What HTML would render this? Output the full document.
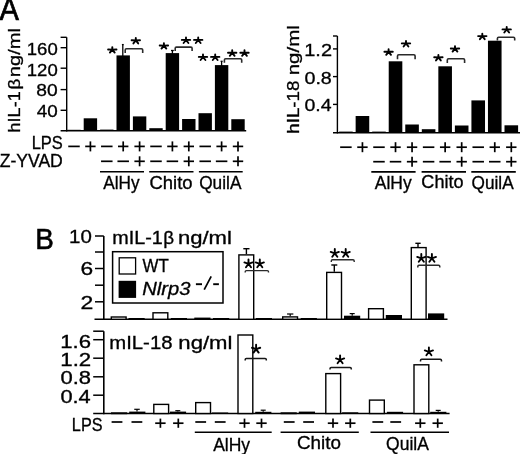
<!DOCTYPE html>
<html><head><meta charset="utf-8"><style>
html,body{margin:0;padding:0;background:#fff;}
body{width:520px;height:454px;overflow:hidden;}
svg{display:block;will-change:transform;}
text{font-family:"Liberation Sans", sans-serif;fill:#000;stroke:#000;stroke-width:0.32px;}
</style></head><body>
<svg width="520" height="454" viewBox="0 0 520 454">
<text x="-0.4" y="20.4" font-size="31.5" textLength="19.4" lengthAdjust="spacingAndGlyphs" style="stroke-width:0.7px">A</text>
<line x1="66.7" y1="37.3" x2="66.7" y2="131.45" stroke="#000" stroke-width="1.4" stroke-linecap="butt"/>
<line x1="60.6" y1="37.3" x2="66.7" y2="37.3" stroke="#000" stroke-width="1.4" stroke-linecap="butt"/>
<line x1="60.6" y1="47.7" x2="66.7" y2="47.7" stroke="#000" stroke-width="1.4" stroke-linecap="butt"/>
<line x1="60.6" y1="68.2" x2="66.7" y2="68.2" stroke="#000" stroke-width="1.4" stroke-linecap="butt"/>
<line x1="60.6" y1="89.6" x2="66.7" y2="89.6" stroke="#000" stroke-width="1.4" stroke-linecap="butt"/>
<line x1="60.6" y1="110.3" x2="66.7" y2="110.3" stroke="#000" stroke-width="1.4" stroke-linecap="butt"/>
<line x1="60.6" y1="130.7" x2="246.2" y2="130.7" stroke="#000" stroke-width="1.5" stroke-linecap="butt"/>
<text x="26.79" y="54.9" font-size="17.4" textLength="30.94" lengthAdjust="spacingAndGlyphs" >160</text>
<text x="26.79" y="75.9" font-size="17.4" textLength="30.94" lengthAdjust="spacingAndGlyphs" >120</text>
<text x="36.36" y="96.4" font-size="17.4" textLength="21.39" lengthAdjust="spacingAndGlyphs" >80</text>
<text x="36.77" y="117.4" font-size="17.4" textLength="20.97" lengthAdjust="spacingAndGlyphs" >40</text>
<text transform="translate(20.2,131.2) rotate(-90)" x="-1.25" y="0" font-size="17.4" textLength="41.13" lengthAdjust="spacingAndGlyphs">hIL-1</text>
<text transform="translate(20.2,88.2) rotate(-90)" x="-1.29" y="0" font-size="17.4" textLength="10.73" lengthAdjust="spacingAndGlyphs">&#946;</text>
<text transform="translate(20.2,75.8) rotate(-90)" x="-1.34" y="0" font-size="17.4" textLength="49.18" lengthAdjust="spacingAndGlyphs">ng/ml</text>
<rect x="67.3" y="129.8" width="13.4" height="0.9" fill="#000"/>
<rect x="83.7" y="118.3" width="13.4" height="12.4" fill="#000"/>
<rect x="100.1" y="129.6" width="13.4" height="1.1" fill="#000"/>
<rect x="116.5" y="55.4" width="13.4" height="75.3" fill="#000"/>
<rect x="132.9" y="116.4" width="13.4" height="14.3" fill="#000"/>
<rect x="149.3" y="128.2" width="13.4" height="2.5" fill="#000"/>
<rect x="165.7" y="53.1" width="13.4" height="77.6" fill="#000"/>
<rect x="182.1" y="119" width="13.4" height="11.7" fill="#000"/>
<rect x="198.5" y="113.2" width="13.4" height="17.5" fill="#000"/>
<rect x="214.9" y="65.1" width="13.4" height="65.6" fill="#000"/>
<rect x="231.3" y="119.2" width="13.4" height="11.5" fill="#000"/>
<line x1="122.8" y1="44.6" x2="122.8" y2="56" stroke="#000" stroke-width="1.3" stroke-linecap="butt"/>
<line x1="121.9" y1="44.6" x2="123.7" y2="44.6" stroke="#000" stroke-width="1.3" stroke-linecap="butt"/>
<line x1="172.4" y1="50.5" x2="172.4" y2="54" stroke="#000" stroke-width="1.3" stroke-linecap="butt"/>
<line x1="171" y1="50.5" x2="173.8" y2="50.5" stroke="#000" stroke-width="1.3" stroke-linecap="butt"/>
<line x1="221.6" y1="61.3" x2="221.6" y2="66" stroke="#000" stroke-width="1.3" stroke-linecap="butt"/>
<line x1="220.6" y1="61.3" x2="222.6" y2="61.3" stroke="#000" stroke-width="1.3" stroke-linecap="butt"/>
<path d="M112.3 49.6L112.3 47.1M112.3 49.6L108.1 49.5M112.3 49.6L116.5 49.5M112.3 49.6L109.9 52.6M112.3 49.6L114.7 52.6" stroke="#000" stroke-width="1.9" stroke-linecap="round" fill="none"/>
<path d="M125.2 53L125.2 49.9Q125.2 48.7 126.4 48.7L141.5 48.7Q142.7 48.7 142.7 49.9L142.7 53" stroke="#2a2a2a" stroke-width="1.6" fill="none"/>
<path d="M135.8 40.4L135.8 37.9M135.8 40.4L131.6 40.3M135.8 40.4L140 40.3M135.8 40.4L133.4 43.4M135.8 40.4L138.2 43.4" stroke="#000" stroke-width="1.9" stroke-linecap="round" fill="none"/>
<path d="M163.9 45.6L163.9 43.1M163.9 45.6L159.7 45.5M163.9 45.6L168.1 45.5M163.9 45.6L161.5 48.6M163.9 45.6L166.3 48.6" stroke="#000" stroke-width="1.9" stroke-linecap="round" fill="none"/>
<path d="M175.2 51L175.2 48.3Q175.2 47.1 176.4 47.1L190.9 47.1Q192.1 47.1 192.1 48.3L192.1 51" stroke="#2a2a2a" stroke-width="1.6" fill="none"/>
<path d="M186 40L186 37.5M186 40L181.8 39.9M186 40L190.2 39.9M186 40L183.6 43M186 40L188.4 43" stroke="#000" stroke-width="1.9" stroke-linecap="round" fill="none"/>
<path d="M198.2 40L198.2 37.5M198.2 40L194 39.9M198.2 40L202.4 39.9M198.2 40L195.8 43M198.2 40L200.6 43" stroke="#000" stroke-width="1.9" stroke-linecap="round" fill="none"/>
<path d="M203 57L203 54.5M203 57L198.8 56.9M203 57L207.2 56.9M203 57L200.6 60M203 57L205.4 60" stroke="#000" stroke-width="1.9" stroke-linecap="round" fill="none"/>
<path d="M215.2 57L215.2 54.5M215.2 57L211 56.9M215.2 57L219.4 56.9M215.2 57L212.8 60M215.2 57L217.6 60" stroke="#000" stroke-width="1.9" stroke-linecap="round" fill="none"/>
<path d="M224.4 62.8L224.4 59.9Q224.4 58.7 225.6 58.7L240.5 58.7Q241.7 58.7 241.7 59.9L241.7 62.8" stroke="#2a2a2a" stroke-width="1.6" fill="none"/>
<path d="M232.2 52.8L232.2 50.3M232.2 52.8L228 52.7M232.2 52.8L236.4 52.7M232.2 52.8L229.8 55.8M232.2 52.8L234.6 55.8" stroke="#000" stroke-width="1.9" stroke-linecap="round" fill="none"/>
<path d="M244.5 52.8L244.5 50.3M244.5 52.8L240.3 52.7M244.5 52.8L248.7 52.7M244.5 52.8L242.1 55.8M244.5 52.8L246.9 55.8" stroke="#000" stroke-width="1.9" stroke-linecap="round" fill="none"/>
<text x="31.65" y="148.7" font-size="17.6" textLength="31.11" lengthAdjust="spacingAndGlyphs" >LPS</text>
<text x="-0.35" y="166.6" font-size="17.6" textLength="63.17" lengthAdjust="spacingAndGlyphs" >Z-YVAD</text>
<line x1="68.25" y1="146.4" x2="79.75" y2="146.4" stroke="#000" stroke-width="1.7" stroke-linecap="butt"/>
<line x1="85.2" y1="146.4" x2="95.6" y2="146.4" stroke="#000" stroke-width="1.7" stroke-linecap="butt"/>
<line x1="90.4" y1="141.4" x2="90.4" y2="151.4" stroke="#000" stroke-width="1.7" stroke-linecap="butt"/>
<line x1="101.05" y1="146.4" x2="112.55" y2="146.4" stroke="#000" stroke-width="1.7" stroke-linecap="butt"/>
<line x1="118" y1="146.4" x2="128.4" y2="146.4" stroke="#000" stroke-width="1.7" stroke-linecap="butt"/>
<line x1="123.2" y1="141.4" x2="123.2" y2="151.4" stroke="#000" stroke-width="1.7" stroke-linecap="butt"/>
<line x1="134.4" y1="146.4" x2="144.8" y2="146.4" stroke="#000" stroke-width="1.7" stroke-linecap="butt"/>
<line x1="139.6" y1="141.4" x2="139.6" y2="151.4" stroke="#000" stroke-width="1.7" stroke-linecap="butt"/>
<line x1="150.25" y1="146.4" x2="161.75" y2="146.4" stroke="#000" stroke-width="1.7" stroke-linecap="butt"/>
<line x1="167.2" y1="146.4" x2="177.6" y2="146.4" stroke="#000" stroke-width="1.7" stroke-linecap="butt"/>
<line x1="172.4" y1="141.4" x2="172.4" y2="151.4" stroke="#000" stroke-width="1.7" stroke-linecap="butt"/>
<line x1="183.6" y1="146.4" x2="194" y2="146.4" stroke="#000" stroke-width="1.7" stroke-linecap="butt"/>
<line x1="188.8" y1="141.4" x2="188.8" y2="151.4" stroke="#000" stroke-width="1.7" stroke-linecap="butt"/>
<line x1="199.45" y1="146.4" x2="210.95" y2="146.4" stroke="#000" stroke-width="1.7" stroke-linecap="butt"/>
<line x1="216.4" y1="146.4" x2="226.8" y2="146.4" stroke="#000" stroke-width="1.7" stroke-linecap="butt"/>
<line x1="221.6" y1="141.4" x2="221.6" y2="151.4" stroke="#000" stroke-width="1.7" stroke-linecap="butt"/>
<line x1="232.8" y1="146.4" x2="243.2" y2="146.4" stroke="#000" stroke-width="1.7" stroke-linecap="butt"/>
<line x1="238" y1="141.4" x2="238" y2="151.4" stroke="#000" stroke-width="1.7" stroke-linecap="butt"/>
<line x1="101.05" y1="161.3" x2="112.55" y2="161.3" stroke="#000" stroke-width="1.7" stroke-linecap="butt"/>
<line x1="117.45" y1="161.3" x2="128.95" y2="161.3" stroke="#000" stroke-width="1.7" stroke-linecap="butt"/>
<line x1="134.4" y1="161.3" x2="144.8" y2="161.3" stroke="#000" stroke-width="1.7" stroke-linecap="butt"/>
<line x1="139.6" y1="156.3" x2="139.6" y2="166.3" stroke="#000" stroke-width="1.7" stroke-linecap="butt"/>
<line x1="150.25" y1="161.3" x2="161.75" y2="161.3" stroke="#000" stroke-width="1.7" stroke-linecap="butt"/>
<line x1="166.65" y1="161.3" x2="178.15" y2="161.3" stroke="#000" stroke-width="1.7" stroke-linecap="butt"/>
<line x1="183.6" y1="161.3" x2="194" y2="161.3" stroke="#000" stroke-width="1.7" stroke-linecap="butt"/>
<line x1="188.8" y1="156.3" x2="188.8" y2="166.3" stroke="#000" stroke-width="1.7" stroke-linecap="butt"/>
<line x1="199.45" y1="161.3" x2="210.95" y2="161.3" stroke="#000" stroke-width="1.7" stroke-linecap="butt"/>
<line x1="215.85" y1="161.3" x2="227.35" y2="161.3" stroke="#000" stroke-width="1.7" stroke-linecap="butt"/>
<line x1="232.8" y1="161.3" x2="243.2" y2="161.3" stroke="#000" stroke-width="1.7" stroke-linecap="butt"/>
<line x1="238" y1="156.3" x2="238" y2="166.3" stroke="#000" stroke-width="1.7" stroke-linecap="butt"/>
<line x1="100" y1="171.8" x2="144" y2="171.8" stroke="#000" stroke-width="1.6" stroke-linecap="butt"/>
<line x1="149.2" y1="171.8" x2="193.5" y2="171.8" stroke="#000" stroke-width="1.6" stroke-linecap="butt"/>
<line x1="198.9" y1="171.8" x2="242.7" y2="171.8" stroke="#000" stroke-width="1.6" stroke-linecap="butt"/>
<text x="103.27" y="188.7" font-size="17.6" textLength="36.37" lengthAdjust="spacingAndGlyphs" >AlHy</text>
<text x="149.46" y="188.8" font-size="17.6" textLength="43.11" lengthAdjust="spacingAndGlyphs" >Chito</text>
<text x="199.18" y="188.8" font-size="17.6" textLength="42.25" lengthAdjust="spacingAndGlyphs" >QuilA</text>
<line x1="337.4" y1="36" x2="337.4" y2="133.45" stroke="#000" stroke-width="1.4" stroke-linecap="butt"/>
<line x1="333" y1="36" x2="337.4" y2="36" stroke="#000" stroke-width="1.4" stroke-linecap="butt"/>
<line x1="333" y1="48.9" x2="337.4" y2="48.9" stroke="#000" stroke-width="1.4" stroke-linecap="butt"/>
<line x1="333" y1="76.6" x2="337.4" y2="76.6" stroke="#000" stroke-width="1.4" stroke-linecap="butt"/>
<line x1="333" y1="104.4" x2="337.4" y2="104.4" stroke="#000" stroke-width="1.4" stroke-linecap="butt"/>
<line x1="333" y1="132.7" x2="520" y2="132.7" stroke="#000" stroke-width="1.5" stroke-linecap="butt"/>
<text x="304.28" y="56" font-size="17.4" textLength="27.72" lengthAdjust="spacingAndGlyphs" >1.2</text>
<text x="304.43" y="83.7" font-size="17.4" textLength="27.43" lengthAdjust="spacingAndGlyphs" >0.8</text>
<text x="304.44" y="111.4" font-size="17.4" textLength="27.13" lengthAdjust="spacingAndGlyphs" >0.4</text>
<text transform="translate(298.9,132.4) rotate(-90)" x="-1.3" y="0" font-size="17.4" textLength="53.11" lengthAdjust="spacingAndGlyphs">hIL-18</text>
<text transform="translate(298.9,73.9) rotate(-90)" x="-1.36" y="0" font-size="17.4" textLength="50.03" lengthAdjust="spacingAndGlyphs">ng/ml</text>
<rect x="339.1" y="131.6" width="13.6" height="1.1" fill="#000"/>
<rect x="355.64" y="116" width="13.6" height="16.7" fill="#000"/>
<rect x="372.18" y="131.6" width="13.6" height="1.1" fill="#000"/>
<rect x="388.72" y="61.3" width="13.6" height="71.4" fill="#000"/>
<rect x="405.26" y="124.5" width="13.6" height="8.2" fill="#000"/>
<rect x="421.8" y="129.2" width="13.6" height="3.5" fill="#000"/>
<rect x="438.34" y="66.3" width="13.6" height="66.4" fill="#000"/>
<rect x="454.88" y="125.5" width="13.6" height="7.2" fill="#000"/>
<rect x="471.42" y="100.4" width="13.6" height="32.3" fill="#000"/>
<rect x="487.96" y="40.7" width="13.6" height="92" fill="#000"/>
<rect x="504.5" y="125.3" width="13.6" height="7.4" fill="#000"/>
<path d="M388.6 51.8L388.6 49.3M388.6 51.8L384.4 51.7M388.6 51.8L392.8 51.7M388.6 51.8L386.2 54.8M388.6 51.8L391 54.8" stroke="#000" stroke-width="1.9" stroke-linecap="round" fill="none"/>
<path d="M397.5 59.2L397.5 56Q397.5 54.8 398.7 54.8L413.9 54.8Q415.1 54.8 415.1 56L415.1 59.2" stroke="#2a2a2a" stroke-width="1.6" fill="none"/>
<path d="M406 43.5L406 41M406 43.5L401.8 43.4M406 43.5L410.2 43.4M406 43.5L403.6 46.5M406 43.5L408.4 46.5" stroke="#000" stroke-width="1.9" stroke-linecap="round" fill="none"/>
<path d="M438.4 57.4L438.4 54.9M438.4 57.4L434.2 57.3M438.4 57.4L442.6 57.3M438.4 57.4L436 60.4M438.4 57.4L440.8 60.4" stroke="#000" stroke-width="1.9" stroke-linecap="round" fill="none"/>
<path d="M447.3 63L447.3 60Q447.3 58.8 448.5 58.8L463.4 58.8Q464.6 58.8 464.6 60L464.6 63" stroke="#2a2a2a" stroke-width="1.6" fill="none"/>
<path d="M455 48.6L455 46.1M455 48.6L450.8 48.5M455 48.6L459.2 48.5M455 48.6L452.6 51.6M455 48.6L457.4 51.6" stroke="#000" stroke-width="1.9" stroke-linecap="round" fill="none"/>
<path d="M482.3 36.2L482.3 33.7M482.3 36.2L478.1 36.1M482.3 36.2L486.5 36.1M482.3 36.2L479.9 39.2M482.3 36.2L484.7 39.2" stroke="#000" stroke-width="1.9" stroke-linecap="round" fill="none"/>
<path d="M497.4 40.5L497.4 38.5Q497.4 37.3 498.6 37.3L513.5 37.3Q514.7 37.3 514.7 38.5L514.7 40.5" stroke="#2a2a2a" stroke-width="1.6" fill="none"/>
<path d="M506.7 29.5L506.7 27M506.7 29.5L502.5 29.4M506.7 29.5L510.9 29.4M506.7 29.5L504.3 32.5M506.7 29.5L509.1 32.5" stroke="#000" stroke-width="1.9" stroke-linecap="round" fill="none"/>
<line x1="340.15" y1="147.2" x2="351.65" y2="147.2" stroke="#000" stroke-width="1.7" stroke-linecap="butt"/>
<line x1="357.24" y1="147.2" x2="367.64" y2="147.2" stroke="#000" stroke-width="1.7" stroke-linecap="butt"/>
<line x1="362.44" y1="142.2" x2="362.44" y2="152.2" stroke="#000" stroke-width="1.7" stroke-linecap="butt"/>
<line x1="373.23" y1="147.2" x2="384.73" y2="147.2" stroke="#000" stroke-width="1.7" stroke-linecap="butt"/>
<line x1="390.32" y1="147.2" x2="400.72" y2="147.2" stroke="#000" stroke-width="1.7" stroke-linecap="butt"/>
<line x1="395.52" y1="142.2" x2="395.52" y2="152.2" stroke="#000" stroke-width="1.7" stroke-linecap="butt"/>
<line x1="406.86" y1="147.2" x2="417.26" y2="147.2" stroke="#000" stroke-width="1.7" stroke-linecap="butt"/>
<line x1="412.06" y1="142.2" x2="412.06" y2="152.2" stroke="#000" stroke-width="1.7" stroke-linecap="butt"/>
<line x1="422.85" y1="147.2" x2="434.35" y2="147.2" stroke="#000" stroke-width="1.7" stroke-linecap="butt"/>
<line x1="439.94" y1="147.2" x2="450.34" y2="147.2" stroke="#000" stroke-width="1.7" stroke-linecap="butt"/>
<line x1="445.14" y1="142.2" x2="445.14" y2="152.2" stroke="#000" stroke-width="1.7" stroke-linecap="butt"/>
<line x1="456.48" y1="147.2" x2="466.88" y2="147.2" stroke="#000" stroke-width="1.7" stroke-linecap="butt"/>
<line x1="461.68" y1="142.2" x2="461.68" y2="152.2" stroke="#000" stroke-width="1.7" stroke-linecap="butt"/>
<line x1="472.47" y1="147.2" x2="483.97" y2="147.2" stroke="#000" stroke-width="1.7" stroke-linecap="butt"/>
<line x1="489.56" y1="147.2" x2="499.96" y2="147.2" stroke="#000" stroke-width="1.7" stroke-linecap="butt"/>
<line x1="494.76" y1="142.2" x2="494.76" y2="152.2" stroke="#000" stroke-width="1.7" stroke-linecap="butt"/>
<line x1="506.1" y1="147.2" x2="516.5" y2="147.2" stroke="#000" stroke-width="1.7" stroke-linecap="butt"/>
<line x1="511.3" y1="142.2" x2="511.3" y2="152.2" stroke="#000" stroke-width="1.7" stroke-linecap="butt"/>
<line x1="373.23" y1="161.7" x2="384.73" y2="161.7" stroke="#000" stroke-width="1.7" stroke-linecap="butt"/>
<line x1="389.77" y1="161.7" x2="401.27" y2="161.7" stroke="#000" stroke-width="1.7" stroke-linecap="butt"/>
<line x1="406.86" y1="161.7" x2="417.26" y2="161.7" stroke="#000" stroke-width="1.7" stroke-linecap="butt"/>
<line x1="412.06" y1="156.7" x2="412.06" y2="166.7" stroke="#000" stroke-width="1.7" stroke-linecap="butt"/>
<line x1="422.85" y1="161.7" x2="434.35" y2="161.7" stroke="#000" stroke-width="1.7" stroke-linecap="butt"/>
<line x1="439.39" y1="161.7" x2="450.89" y2="161.7" stroke="#000" stroke-width="1.7" stroke-linecap="butt"/>
<line x1="456.48" y1="161.7" x2="466.88" y2="161.7" stroke="#000" stroke-width="1.7" stroke-linecap="butt"/>
<line x1="461.68" y1="156.7" x2="461.68" y2="166.7" stroke="#000" stroke-width="1.7" stroke-linecap="butt"/>
<line x1="472.47" y1="161.7" x2="483.97" y2="161.7" stroke="#000" stroke-width="1.7" stroke-linecap="butt"/>
<line x1="489.01" y1="161.7" x2="500.51" y2="161.7" stroke="#000" stroke-width="1.7" stroke-linecap="butt"/>
<line x1="506.1" y1="161.7" x2="516.5" y2="161.7" stroke="#000" stroke-width="1.7" stroke-linecap="butt"/>
<line x1="511.3" y1="156.7" x2="511.3" y2="166.7" stroke="#000" stroke-width="1.7" stroke-linecap="butt"/>
<line x1="371.3" y1="171.9" x2="415.6" y2="171.9" stroke="#000" stroke-width="1.6" stroke-linecap="butt"/>
<line x1="421.6" y1="171.9" x2="466" y2="171.9" stroke="#000" stroke-width="1.6" stroke-linecap="butt"/>
<line x1="471.3" y1="171.9" x2="515.8" y2="171.9" stroke="#000" stroke-width="1.6" stroke-linecap="butt"/>
<text x="374.77" y="188.7" font-size="17.6" textLength="36.87" lengthAdjust="spacingAndGlyphs" >AlHy</text>
<text x="421.38" y="188.4" font-size="17.6" textLength="42.18" lengthAdjust="spacingAndGlyphs" >Chito</text>
<text x="471.59" y="188.6" font-size="17.6" textLength="42.05" lengthAdjust="spacingAndGlyphs" >QuilA</text>
<text x="35.3" y="248.5" font-size="29.5" textLength="18.6" lengthAdjust="spacingAndGlyphs" style="stroke-width:0.6px">B</text>
<line x1="103.8" y1="236" x2="103.8" y2="320.05" stroke="#000" stroke-width="1.6" stroke-linecap="butt"/>
<line x1="95" y1="236" x2="103.8" y2="236" stroke="#000" stroke-width="1.5" stroke-linecap="butt"/>
<line x1="95" y1="252" x2="103.8" y2="252" stroke="#000" stroke-width="1.5" stroke-linecap="butt"/>
<line x1="95" y1="268.5" x2="103.8" y2="268.5" stroke="#000" stroke-width="1.5" stroke-linecap="butt"/>
<line x1="95" y1="285.2" x2="103.8" y2="285.2" stroke="#000" stroke-width="1.5" stroke-linecap="butt"/>
<line x1="95" y1="301.8" x2="103.8" y2="301.8" stroke="#000" stroke-width="1.5" stroke-linecap="butt"/>
<line x1="94.5" y1="319.3" x2="447.5" y2="319.3" stroke="#000" stroke-width="1.6" stroke-linecap="butt"/>
<text x="69.04" y="242.9" font-size="18.6" textLength="22.76" lengthAdjust="spacingAndGlyphs" >10</text>
<text x="80.64" y="275.1" font-size="18.6" textLength="12.66" lengthAdjust="spacingAndGlyphs" >6</text>
<text x="80.64" y="309" font-size="18.6" textLength="12.82" lengthAdjust="spacingAndGlyphs" >2</text>
<text x="112.29" y="243.6" font-size="17.6" textLength="50.48" lengthAdjust="spacingAndGlyphs" >mIL-1</text>
<text x="163.19" y="243.6" font-size="17.6" textLength="10.85" lengthAdjust="spacingAndGlyphs" >&#946;</text>
<text x="177.94" y="243.6" font-size="17.6" textLength="53.94" lengthAdjust="spacingAndGlyphs" >ng/ml</text>
<rect x="112.6" y="251.7" width="110.4" height="51.3" fill="#fff" stroke="#000" stroke-width="1.5"/>
<rect x="119.2" y="257.8" width="16.4" height="16.2" fill="#fff" stroke="#000" stroke-width="1.3"/>
<rect x="118.6" y="280.8" width="17.5" height="17.1" fill="#000"/>
<text x="142.53" y="271.6" font-size="17.6" textLength="26.26" lengthAdjust="spacingAndGlyphs" >WT</text>
<text x="142.18" y="295.3" font-size="18.5" textLength="48.2" lengthAdjust="spacingAndGlyphs" font-style="italic" >Nlrp3</text>
<line x1="195.9" y1="284.2" x2="202" y2="284.2" stroke="#000" stroke-width="1.9" stroke-linecap="butt"/>
<line x1="204.2" y1="289.7" x2="211.2" y2="276.3" stroke="#000" stroke-width="1.7" stroke-linecap="butt"/>
<line x1="213.2" y1="284.2" x2="218.9" y2="284.2" stroke="#000" stroke-width="1.9" stroke-linecap="butt"/>
<rect x="111.3" y="317" width="14.8" height="2.3" fill="#fff" stroke="#000" stroke-width="1.4"/>
<rect x="153" y="312.8" width="14.8" height="6.5" fill="#fff" stroke="#000" stroke-width="1.4"/>
<rect x="195" y="318.3" width="14.8" height="1" fill="#fff" stroke="#000" stroke-width="1.4"/>
<rect x="238.9" y="254.9" width="14.8" height="64.4" fill="#fff" stroke="#000" stroke-width="1.4"/>
<rect x="282.7" y="316.9" width="14.8" height="2.4" fill="#fff" stroke="#000" stroke-width="1.4"/>
<rect x="326.7" y="272.4" width="14.8" height="46.9" fill="#fff" stroke="#000" stroke-width="1.4"/>
<rect x="368.6" y="308.7" width="14.8" height="10.6" fill="#fff" stroke="#000" stroke-width="1.4"/>
<rect x="411.3" y="247.6" width="14.8" height="71.7" fill="#fff" stroke="#000" stroke-width="1.4"/>
<rect x="128.5" y="318" width="16.2" height="1.3" fill="#000"/>
<rect x="170.8" y="318" width="16.2" height="1.3" fill="#000"/>
<rect x="213" y="318" width="16.2" height="1.3" fill="#000"/>
<rect x="255.8" y="318" width="16.2" height="1.3" fill="#000"/>
<rect x="300.7" y="318" width="16.2" height="1.3" fill="#000"/>
<rect x="344" y="315.7" width="16.2" height="3.6" fill="#000"/>
<rect x="385.8" y="315" width="16.2" height="4.3" fill="#000"/>
<rect x="428" y="313.4" width="16.2" height="5.9" fill="#000"/>
<line x1="246.4" y1="248.7" x2="246.4" y2="254.2" stroke="#000" stroke-width="1.4" stroke-linecap="butt"/>
<line x1="243.3" y1="248.7" x2="249.5" y2="248.7" stroke="#000" stroke-width="1.4" stroke-linecap="butt"/>
<line x1="334.3" y1="265" x2="334.3" y2="271.7" stroke="#000" stroke-width="1.4" stroke-linecap="butt"/>
<line x1="331.3" y1="265" x2="337.3" y2="265" stroke="#000" stroke-width="1.4" stroke-linecap="butt"/>
<line x1="418" y1="243.3" x2="418" y2="246.9" stroke="#000" stroke-width="1.4" stroke-linecap="butt"/>
<line x1="415.35" y1="243.3" x2="420.65" y2="243.3" stroke="#000" stroke-width="1.4" stroke-linecap="butt"/>
<line x1="290.2" y1="314" x2="290.2" y2="316.2" stroke="#000" stroke-width="1.2" stroke-linecap="butt"/>
<line x1="287.05" y1="314" x2="293.35" y2="314" stroke="#000" stroke-width="1.2" stroke-linecap="butt"/>
<line x1="352.2" y1="313.6" x2="352.2" y2="315.7" stroke="#000" stroke-width="1.2" stroke-linecap="butt"/>
<line x1="349.7" y1="313.6" x2="354.7" y2="313.6" stroke="#000" stroke-width="1.2" stroke-linecap="butt"/>
<path d="M245.2 272.4L245.2 271.8Q245.2 270.6 246.4 270.6L267.3 270.6Q268.5 270.6 268.5 271.8L268.5 272.4" stroke="#2a2a2a" stroke-width="1.4" fill="none"/>
<path d="M248.5 263.8L248.5 259.5M248.5 263.8L252.59 262.47M248.5 263.8L244.41 262.47M248.5 263.8L251.03 267.28M248.5 263.8L245.97 267.28" stroke="#000" stroke-width="1.9" stroke-linecap="round" fill="none"/>
<path d="M259.8 263.8L259.8 259.5M259.8 263.8L263.89 262.47M259.8 263.8L255.71 262.47M259.8 263.8L262.33 267.28M259.8 263.8L257.27 267.28" stroke="#000" stroke-width="1.9" stroke-linecap="round" fill="none"/>
<path d="M331.3 261.9L331.3 260.9Q331.3 259.7 332.5 259.7L353 259.7Q354.2 259.7 354.2 260.9L354.2 261.9" stroke="#2a2a2a" stroke-width="1.4" fill="none"/>
<path d="M334.8 253.3L334.8 249M334.8 253.3L338.89 251.97M334.8 253.3L330.71 251.97M334.8 253.3L337.33 256.78M334.8 253.3L332.27 256.78" stroke="#000" stroke-width="1.9" stroke-linecap="round" fill="none"/>
<path d="M345.7 253.3L345.7 249M345.7 253.3L349.79 251.97M345.7 253.3L341.61 251.97M345.7 253.3L348.23 256.78M345.7 253.3L343.17 256.78" stroke="#000" stroke-width="1.9" stroke-linecap="round" fill="none"/>
<path d="M417.8 267.6L417.8 266.5Q417.8 265.3 419 265.3L438.6 265.3Q439.8 265.3 439.8 266.5L439.8 267.6" stroke="#2a2a2a" stroke-width="1.5" fill="none"/>
<path d="M421.3 258.3L421.3 254M421.3 258.3L425.39 256.97M421.3 258.3L417.21 256.97M421.3 258.3L423.83 261.78M421.3 258.3L418.77 261.78" stroke="#000" stroke-width="1.9" stroke-linecap="round" fill="none"/>
<path d="M431.9 258.3L431.9 254M431.9 258.3L435.99 256.97M431.9 258.3L427.81 256.97M431.9 258.3L434.43 261.78M431.9 258.3L429.37 261.78" stroke="#000" stroke-width="1.9" stroke-linecap="round" fill="none"/>
<line x1="103.8" y1="331.2" x2="103.8" y2="414.25" stroke="#000" stroke-width="1.6" stroke-linecap="butt"/>
<line x1="93.2" y1="331.2" x2="103.8" y2="331.2" stroke="#000" stroke-width="1.5" stroke-linecap="butt"/>
<line x1="93.2" y1="339.7" x2="103.8" y2="339.7" stroke="#000" stroke-width="1.5" stroke-linecap="butt"/>
<line x1="93.2" y1="358.2" x2="103.8" y2="358.2" stroke="#000" stroke-width="1.5" stroke-linecap="butt"/>
<line x1="93.2" y1="376.8" x2="103.8" y2="376.8" stroke="#000" stroke-width="1.5" stroke-linecap="butt"/>
<line x1="93.2" y1="395.2" x2="103.8" y2="395.2" stroke="#000" stroke-width="1.5" stroke-linecap="butt"/>
<line x1="93.2" y1="413.5" x2="449.6" y2="413.5" stroke="#000" stroke-width="1.6" stroke-linecap="butt"/>
<text x="60.31" y="348.1" font-size="17.6" textLength="30.76" lengthAdjust="spacingAndGlyphs" >1.6</text>
<text x="60.31" y="366.1" font-size="17.6" textLength="30.91" lengthAdjust="spacingAndGlyphs" >1.2</text>
<text x="60.44" y="384" font-size="17.6" textLength="30.62" lengthAdjust="spacingAndGlyphs" >0.8</text>
<text x="60.45" y="402.5" font-size="17.6" textLength="30.29" lengthAdjust="spacingAndGlyphs" >0.4</text>
<text x="109.25" y="348.7" font-size="18.3" textLength="63.23" lengthAdjust="spacingAndGlyphs" >mIL-18</text>
<text x="178.33" y="348.7" font-size="18.3" textLength="54.15" lengthAdjust="spacingAndGlyphs" >ng/ml</text>
<rect x="111.7" y="413" width="14.8" height="0.5" fill="#fff" stroke="#000" stroke-width="1.4"/>
<rect x="153.8" y="404.4" width="14.8" height="9.1" fill="#fff" stroke="#000" stroke-width="1.4"/>
<rect x="195.7" y="402.6" width="14.8" height="10.9" fill="#fff" stroke="#000" stroke-width="1.4"/>
<rect x="238" y="335" width="14.8" height="78.5" fill="#fff" stroke="#000" stroke-width="1.4"/>
<rect x="281.3" y="413" width="14.8" height="0.5" fill="#fff" stroke="#000" stroke-width="1.4"/>
<rect x="325.8" y="373.6" width="14.8" height="39.9" fill="#fff" stroke="#000" stroke-width="1.4"/>
<rect x="369.5" y="400.1" width="14.8" height="13.4" fill="#fff" stroke="#000" stroke-width="1.4"/>
<rect x="414" y="364.8" width="14.8" height="48.7" fill="#fff" stroke="#000" stroke-width="1.4"/>
<rect x="129.2" y="411.6" width="16.2" height="1.9" fill="#000"/>
<rect x="169.9" y="411.6" width="16.2" height="1.9" fill="#000"/>
<rect x="212" y="412.5" width="16.2" height="1" fill="#000"/>
<rect x="255.2" y="411.8" width="16.2" height="1.7" fill="#000"/>
<rect x="298.8" y="411.6" width="16.2" height="1.9" fill="#000"/>
<rect x="342.1" y="412.3" width="16.2" height="1.2" fill="#000"/>
<rect x="386.9" y="411.8" width="16.2" height="1.7" fill="#000"/>
<rect x="430.2" y="411.8" width="16.2" height="1.7" fill="#000"/>
<line x1="137" y1="409.3" x2="137" y2="411.6" stroke="#000" stroke-width="1.2" stroke-linecap="butt"/>
<line x1="134.25" y1="409.3" x2="139.75" y2="409.3" stroke="#000" stroke-width="1.2" stroke-linecap="butt"/>
<line x1="177.8" y1="410.7" x2="177.8" y2="411.6" stroke="#000" stroke-width="1.2" stroke-linecap="butt"/>
<line x1="175.3" y1="410.7" x2="180.3" y2="410.7" stroke="#000" stroke-width="1.2" stroke-linecap="butt"/>
<line x1="263.2" y1="410.2" x2="263.2" y2="411.8" stroke="#000" stroke-width="1.2" stroke-linecap="butt"/>
<line x1="260.7" y1="410.2" x2="265.7" y2="410.2" stroke="#000" stroke-width="1.2" stroke-linecap="butt"/>
<line x1="438.2" y1="410.4" x2="438.2" y2="411.8" stroke="#000" stroke-width="1.2" stroke-linecap="butt"/>
<line x1="435.7" y1="410.4" x2="440.7" y2="410.4" stroke="#000" stroke-width="1.2" stroke-linecap="butt"/>
<path d="M245.2 360.6L245.2 359.6Q245.2 358.4 246.4 358.4L265.1 358.4Q266.3 358.4 266.3 359.6L266.3 360.6" stroke="#151515" stroke-width="1.5" fill="none"/>
<path d="M256.1 349.1L256.1 344.8M256.1 349.1L260.19 347.77M256.1 349.1L252.01 347.77M256.1 349.1L258.63 352.58M256.1 349.1L253.57 352.58" stroke="#000" stroke-width="1.9" stroke-linecap="round" fill="none"/>
<path d="M330 369.6L330 368.7Q330 367.5 331.2 367.5L350.1 367.5Q351.3 367.5 351.3 368.7L351.3 369.6" stroke="#151515" stroke-width="1.5" fill="none"/>
<path d="M340.1 359.8L340.1 355.5M340.1 359.8L344.19 358.47M340.1 359.8L336.01 358.47M340.1 359.8L342.63 363.28M340.1 359.8L337.57 363.28" stroke="#000" stroke-width="1.9" stroke-linecap="round" fill="none"/>
<path d="M420.5 361.4L420.5 360.4Q420.5 359.2 421.7 359.2L440.3 359.2Q441.5 359.2 441.5 360.4L441.5 361.4" stroke="#151515" stroke-width="1.5" fill="none"/>
<path d="M428.9 351.8L428.9 347.5M428.9 351.8L432.99 350.47M428.9 351.8L424.81 350.47M428.9 351.8L431.43 355.28M428.9 351.8L426.37 355.28" stroke="#000" stroke-width="1.9" stroke-linecap="round" fill="none"/>
<text x="71.87" y="430.8" font-size="17.6" textLength="30.68" lengthAdjust="spacingAndGlyphs" >LPS</text>
<line x1="111.6" y1="422" x2="122.4" y2="422" stroke="#000" stroke-width="1.7" stroke-linecap="butt"/>
<line x1="131.5" y1="422" x2="142.3" y2="422" stroke="#000" stroke-width="1.7" stroke-linecap="butt"/>
<line x1="155.2" y1="423.2" x2="165.6" y2="423.2" stroke="#000" stroke-width="1.7" stroke-linecap="butt"/>
<line x1="160.4" y1="418.6" x2="160.4" y2="427.8" stroke="#000" stroke-width="1.7" stroke-linecap="butt"/>
<line x1="173.1" y1="423.2" x2="183.5" y2="423.2" stroke="#000" stroke-width="1.7" stroke-linecap="butt"/>
<line x1="178.3" y1="418.6" x2="178.3" y2="427.8" stroke="#000" stroke-width="1.7" stroke-linecap="butt"/>
<line x1="195.3" y1="422" x2="206.1" y2="422" stroke="#000" stroke-width="1.7" stroke-linecap="butt"/>
<line x1="214.8" y1="422" x2="225.6" y2="422" stroke="#000" stroke-width="1.7" stroke-linecap="butt"/>
<line x1="239.3" y1="423.2" x2="249.7" y2="423.2" stroke="#000" stroke-width="1.7" stroke-linecap="butt"/>
<line x1="244.5" y1="418.6" x2="244.5" y2="427.8" stroke="#000" stroke-width="1.7" stroke-linecap="butt"/>
<line x1="256.3" y1="423.2" x2="266.7" y2="423.2" stroke="#000" stroke-width="1.7" stroke-linecap="butt"/>
<line x1="261.5" y1="418.6" x2="261.5" y2="427.8" stroke="#000" stroke-width="1.7" stroke-linecap="butt"/>
<line x1="283.8" y1="422" x2="294.6" y2="422" stroke="#000" stroke-width="1.7" stroke-linecap="butt"/>
<line x1="303.2" y1="422" x2="314" y2="422" stroke="#000" stroke-width="1.7" stroke-linecap="butt"/>
<line x1="327.8" y1="423.2" x2="338.2" y2="423.2" stroke="#000" stroke-width="1.7" stroke-linecap="butt"/>
<line x1="333" y1="418.6" x2="333" y2="427.8" stroke="#000" stroke-width="1.7" stroke-linecap="butt"/>
<line x1="345.1" y1="423.2" x2="355.5" y2="423.2" stroke="#000" stroke-width="1.7" stroke-linecap="butt"/>
<line x1="350.3" y1="418.6" x2="350.3" y2="427.8" stroke="#000" stroke-width="1.7" stroke-linecap="butt"/>
<line x1="372.4" y1="422" x2="383.2" y2="422" stroke="#000" stroke-width="1.7" stroke-linecap="butt"/>
<line x1="390.3" y1="422" x2="401.1" y2="422" stroke="#000" stroke-width="1.7" stroke-linecap="butt"/>
<line x1="415.1" y1="423.2" x2="425.5" y2="423.2" stroke="#000" stroke-width="1.7" stroke-linecap="butt"/>
<line x1="420.3" y1="418.6" x2="420.3" y2="427.8" stroke="#000" stroke-width="1.7" stroke-linecap="butt"/>
<line x1="432.5" y1="423.2" x2="442.9" y2="423.2" stroke="#000" stroke-width="1.7" stroke-linecap="butt"/>
<line x1="437.7" y1="418.6" x2="437.7" y2="427.8" stroke="#000" stroke-width="1.7" stroke-linecap="butt"/>
<line x1="194.8" y1="432.2" x2="271.7" y2="432.2" stroke="#000" stroke-width="1.6" stroke-linecap="butt"/>
<line x1="280.6" y1="432.2" x2="358.8" y2="432.2" stroke="#000" stroke-width="1.6" stroke-linecap="butt"/>
<line x1="370.5" y1="432.2" x2="449" y2="432.2" stroke="#000" stroke-width="1.6" stroke-linecap="butt"/>
<text x="213.17" y="450.9" font-size="17.8" textLength="36.97" lengthAdjust="spacingAndGlyphs" >AlHy</text>
<text x="296.94" y="449.4" font-size="17.8" textLength="43.95" lengthAdjust="spacingAndGlyphs" >Chito</text>
<text x="386.07" y="449.6" font-size="17.8" textLength="42.76" lengthAdjust="spacingAndGlyphs" >QuilA</text>
</svg>
</body></html>
